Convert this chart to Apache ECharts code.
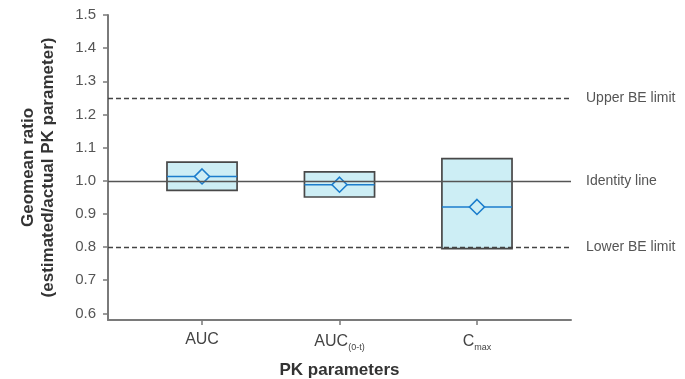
<!DOCTYPE html>
<html>
<head>
<meta charset="utf-8">
<script src="https://cdn.jsdelivr.net/npm/echarts@6/dist/echarts.min.js"></script>
<style>
  html, body { margin: 0; padding: 0; background: #fff; }
  #chart { width: 685px; height: 379px; }
</style>
</head>
<body>
<div id="chart"></div>
<script>
// PK parameters and their geomean ratio summaries (estimated / actual)
const categories = ['AUC', 'AUC(0-t)', 'Cmax'];
const categoryLabels = ['AUC', 'AUC{sub|(0-t)}', 'C{sub|max}'];
const boxLower = [0.971, 0.951, 0.795];
const boxUpper = [1.056, 1.027, 1.067];
const geomean = [1.013, 0.988, 0.921];

// Reference lines drawn across the plot
const refValues = [1.25, 1.0, 0.8];
const refLabels = ['Upper BE limit', 'Identity line', 'Lower BE limit'];
const refDashed = [true, false, true];

// Y-axis tick labels
const yTicks = [0.6, 0.7, 0.8, 0.9, 1.0, 1.1, 1.2, 1.3, 1.4, 1.5];

const FONT = "'Liberation Sans', Arial, Helvetica, sans-serif";
const xPos = categories.map((c, i) => i + 1);

const chart = echarts.init(document.getElementById('chart'), null, { renderer: 'canvas' });

const boxData = categories.map((c, i) => [xPos[i], boxLower[i], boxUpper[i], geomean[i]]);
const meanData = categories.map((c, i) => [xPos[i], geomean[i]]);

chart.setOption({
  animation: false,
  backgroundColor: '#ffffff',
  grid: { left: 108, right: 114, top: 15, bottom: 59, outerBoundsMode: 'none', containLabel: false },
  xAxis: {
    type: 'value',
    min: 0.316,
    max: 3.684,
    name: 'PK parameters',
    nameLocation: 'middle',
    nameGap: 42,
    nameTextStyle: { fontFamily: FONT, fontSize: 17, fontWeight: 'bold', color: '#333' },
    splitLine: { show: false },
    axisLine: { show: true, lineStyle: { color: '#7a7a7a', width: 2 } },
    axisTick: { show: true, length: 5, customValues: xPos, lineStyle: { color: '#7a7a7a', width: 1.5 } },
    axisLabel: {
      customValues: xPos,
      margin: 12,
      fontFamily: FONT,
      fontSize: 16,
      color: '#444',
      formatter: v => categoryLabels[Math.round(v) - 1] || '',
      rich: {
        sub: { fontFamily: FONT, fontSize: 9, color: '#444', padding: [11, 0, 0, 0] }
      }
    }
  },
  yAxis: {
    type: 'value',
    min: 0.58,
    max: 1.5,
    name: 'Geomean ratio\n(estimated/actual PK parameter)',
    nameLocation: 'middle',
    nameRotate: 90,
    nameGap: 50,
    nameTextStyle: { fontFamily: FONT, fontSize: 17, fontWeight: 'bold', color: '#333', lineHeight: 20 },
    splitLine: { show: false },
    axisLine: { show: true, lineStyle: { color: '#7a7a7a', width: 2 } },
    axisTick: { show: true, length: 5, customValues: yTicks, lineStyle: { color: '#7a7a7a', width: 1.5 } },
    axisLabel: {
      customValues: yTicks,
      margin: 12,
      fontFamily: FONT,
      fontSize: 15,
      color: '#555',
      formatter: v => v.toFixed(1)
    }
  },
  series: [
    {
      // reference lines
      type: 'line',
      data: [],
      silent: true,
      markLine: {
        symbol: ['none', 'none'],
        silent: true,
        animation: false,
        data: refValues.map((v, i) => ({
          yAxis: v,
          lineStyle: { color: refDashed[i] ? '#444' : '#555', width: 1.3, type: refDashed[i] ? [5, 3] : 'solid' },
          label: {
            show: true,
            position: 'end',
            distance: 15,
            formatter: refLabels[i],
            fontFamily: FONT,
            fontSize: 14,
            color: '#555'
          }
        }))
      },
      z: 1
    },
    {
      // geomean boxes with a line at the point estimate
      type: 'custom',
      data: boxData,
      z: 3,
      renderItem: (params, api) => {
        const x = api.value(0);
        const lo = api.coord([x, api.value(1)]);
        const hi = api.coord([x, api.value(2)]);
        const mid = api.coord([x, api.value(3)]);
        const halfW = api.size([0.51, 0])[0] / 2;
        return {
          type: 'group',
          children: [
            {
              type: 'rect',
              shape: { x: lo[0] - halfW, y: hi[1], width: halfW * 2, height: lo[1] - hi[1] },
              style: { fill: '#cdeef5', stroke: '#484848', lineWidth: 1.7 }
            },
            {
              type: 'line',
              shape: { x1: lo[0] - halfW, y1: mid[1], x2: lo[0] + halfW, y2: mid[1] },
              style: { stroke: '#1b7dcc', lineWidth: 1.6 }
            }
          ]
        };
      }
    },
    {
      // geomean point markers
      type: 'scatter',
      data: meanData,
      symbol: 'diamond',
      symbolSize: [15, 15],
      z: 4,
      itemStyle: { color: '#cdeef5', borderColor: '#1b7dcc', borderWidth: 1.6, opacity: 1 }
    }
  ]
});
</script>
</body>
</html>
